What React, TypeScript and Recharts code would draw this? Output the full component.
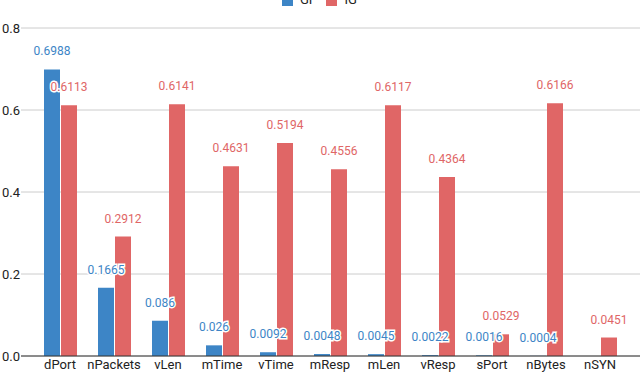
import React from 'react'
import { BarChart, Bar, XAxis, YAxis, CartesianGrid, LabelList } from 'recharts'

const features = ['dPort', 'nPackets', 'vLen', 'mTime', 'vTime', 'mResp', 'mLen', 'vResp', 'sPort', 'nBytes', 'nSYN']
const giValues = [0.6988, 0.1665, 0.086, 0.026, 0.0092, 0.0048, 0.0045, 0.0022, 0.0016, 0.0004, 0]
const igValues = [0.6113, 0.2912, 0.6141, 0.4631, 0.5194, 0.4556, 0.6117, 0.4364, 0.0529, 0.6166, 0.0451]
const yTicks = [0, 0.2, 0.4, 0.6, 0.8]
const seriesNames = ['GI', 'IG']
const seriesColors = ['#3d85c6', '#e06666']

const data = features.map((name, i) => ({ name, GI: giValues[i], IG: igValues[i] }))

const FONT = 'Roboto, Arial, sans-serif'

function makeLabel(color: string) {
  return (props: any) => {
    const { x, y, width, value } = props
    return (
      <text
        x={Number(x) + Number(width) / 2}
        y={Number(y) - 14}
        textAnchor="middle"
        fontSize={12}
        fontFamily={FONT}
        fill={color}
        stroke="#fff"
        strokeWidth={3}
        paintOrder="stroke"
      >
        {String(value)}
      </text>
    )
  }
}

export default function App(): React.ReactElement {
  return (
    <div style={{ position: 'absolute', left: 0, top: 0, width: 640, height: 374, background: '#fff', overflow: 'hidden' }}>
      <div
        style={{
          position: 'absolute',
          top: -6,
          left: 282,
          display: 'flex',
          alignItems: 'center',
          fontFamily: FONT,
          fontSize: 13,
          color: '#222',
          lineHeight: '12px'
        }}
      >
        {seriesNames.map((s, i) => (
          <div key={s} style={{ display: 'flex', alignItems: 'center', marginRight: 14 }}>
            <span style={{ display: 'inline-block', width: 11, height: 11, background: seriesColors[i], marginRight: 7 }} />
            <span>{s}</span>
          </div>
        ))}
      </div>
      <BarChart
        width={640}
        height={374}
        data={data}
        margin={{ top: 28, right: 0, bottom: 0, left: 0 }}
        barSize={16}
        barGap={1}
      >
        <CartesianGrid vertical={false} stroke="#cccccc" />
        <XAxis
          dataKey="name"
          height={18}
          tickSize={0}
          tickMargin={4}
          padding={{ left: 12, right: 13 }}
          axisLine={{ stroke: '#333' }}
          tick={{ fontSize: 13, fill: '#222', fontFamily: FONT }}
          interval={0}
        />
        <YAxis
          width={21}
          domain={[0, 0.8]}
          ticks={yTicks}
          tickFormatter={(v: number) => v.toFixed(1)}
          axisLine={false}
          tickLine={false}
          tickSize={0}
          tickMargin={1}
          tick={{ fontSize: 13, fill: '#222', fontFamily: FONT }}
        />
        <Bar dataKey="GI" fill={seriesColors[0]} isAnimationActive={false}>
          <LabelList dataKey="GI" content={makeLabel(seriesColors[0])} />
        </Bar>
        <Bar dataKey="IG" fill={seriesColors[1]} isAnimationActive={false}>
          <LabelList dataKey="IG" content={makeLabel(seriesColors[1])} />
        </Bar>
      </BarChart>
    </div>
  )
}
